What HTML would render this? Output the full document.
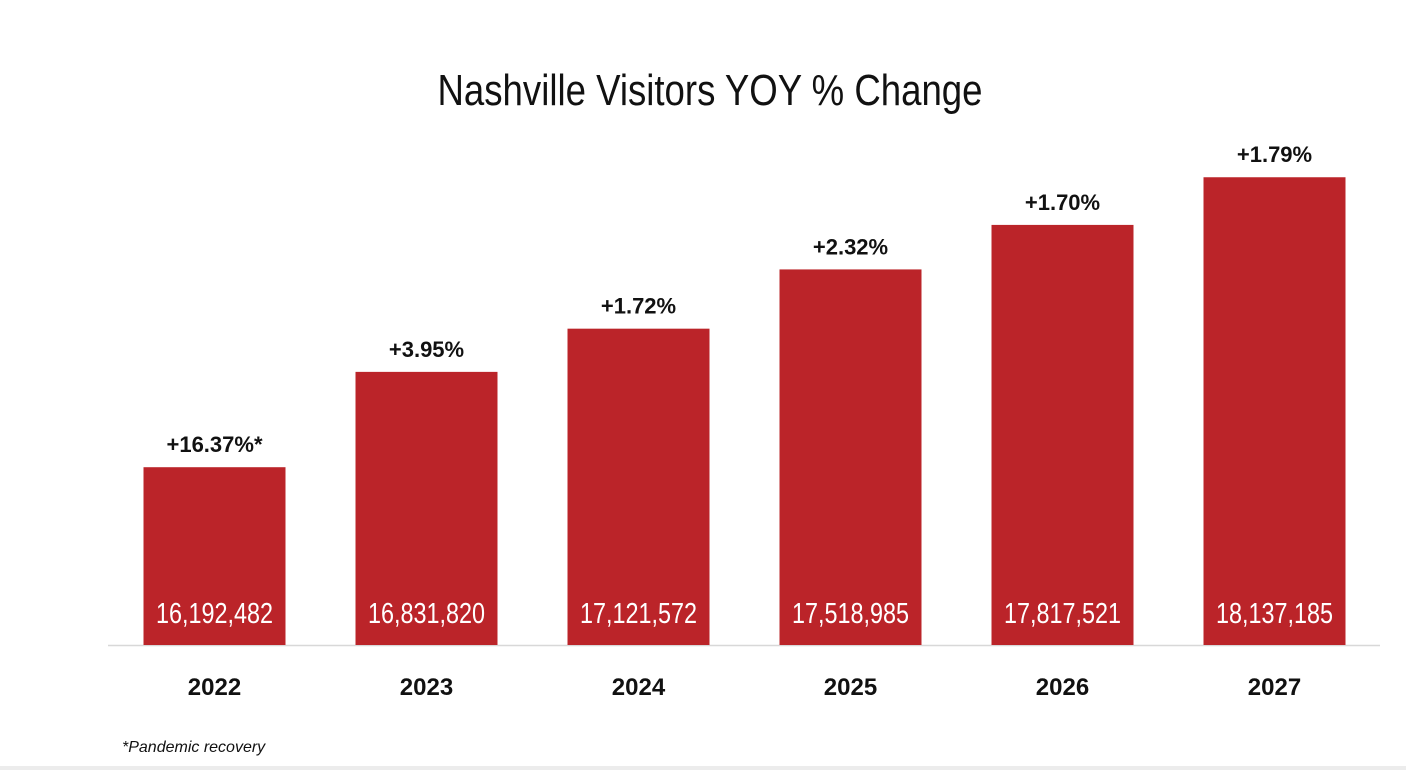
<!DOCTYPE html>
<html><head><meta charset="utf-8"><style>
html,body{margin:0;padding:0;background:#fff;}
svg{display:block;font-family:"Liberation Sans",sans-serif;}
</style></head><body>
<svg id="chart" width="1406" height="770" viewBox="0 0 1406 770">
<rect x="0" y="766" width="1406" height="4" fill="#ececec"/>
<text x="710" y="105" text-anchor="middle" font-size="44" textLength="545" lengthAdjust="spacingAndGlyphs" fill="#111">Nashville Visitors YOY % Change</text>
<line x1="108" y1="645.5" x2="1380" y2="645.5" stroke="#d8d8d8" stroke-width="1.5"/>
<g id="bars"></g>
<text x="122" y="752" font-size="16" font-style="italic" fill="#111">*Pandemic recovery</text>
</svg>
<script>
const years = ["2022","2023","2024","2025","2026","2027"];
const visitors = [16192482,16831820,17121572,17518985,17817521,18137185];
const pctLabels = ["+16.37%*","+3.95%","+1.72%","+2.32%","+1.70%","+1.79%"];

const NS="http://www.w3.org/2000/svg";
const yMin=15000000, pxPerUnit=149.1/1000000, baseY=645;
function yScale(v){return baseY-(v-yMin)*pxPerUnit;}
function xCenter(i){return 214.5+i*212;}
const barW=142;
const g=document.getElementById('bars');
function mk(tag,attrs){const e=document.createElementNS(NS,tag);for(const k in attrs)e.setAttribute(k,attrs[k]);return e;}
years.forEach((yr,i)=>{
  const cx=xCenter(i), top=yScale(visitors[i]);
  const r=mk('rect',{x:cx-barW/2,y:top,width:barW,height:baseY-top,fill:'#bb2429'});
  
  
  g.appendChild(r);
  const v=mk('text',{x:cx,y:623,'text-anchor':'middle','font-size':'29',fill:'#fff',textLength:'117',lengthAdjust:'spacingAndGlyphs'});
  v.textContent=visitors[i].toLocaleString('en-US');
  
  
  g.appendChild(v);
  const p=mk('text',{x:cx,y:top-15,'text-anchor':'middle','font-size':'22','font-weight':'bold',fill:'#111'});
  p.textContent=pctLabels[i];
  
  
  g.appendChild(p);
  const t=mk('text',{x:cx,y:695,'text-anchor':'middle','font-size':'24','font-weight':'bold',fill:'#111'});
  t.textContent=yr;
  
  
  g.appendChild(t);
});
</script>
</body></html>
